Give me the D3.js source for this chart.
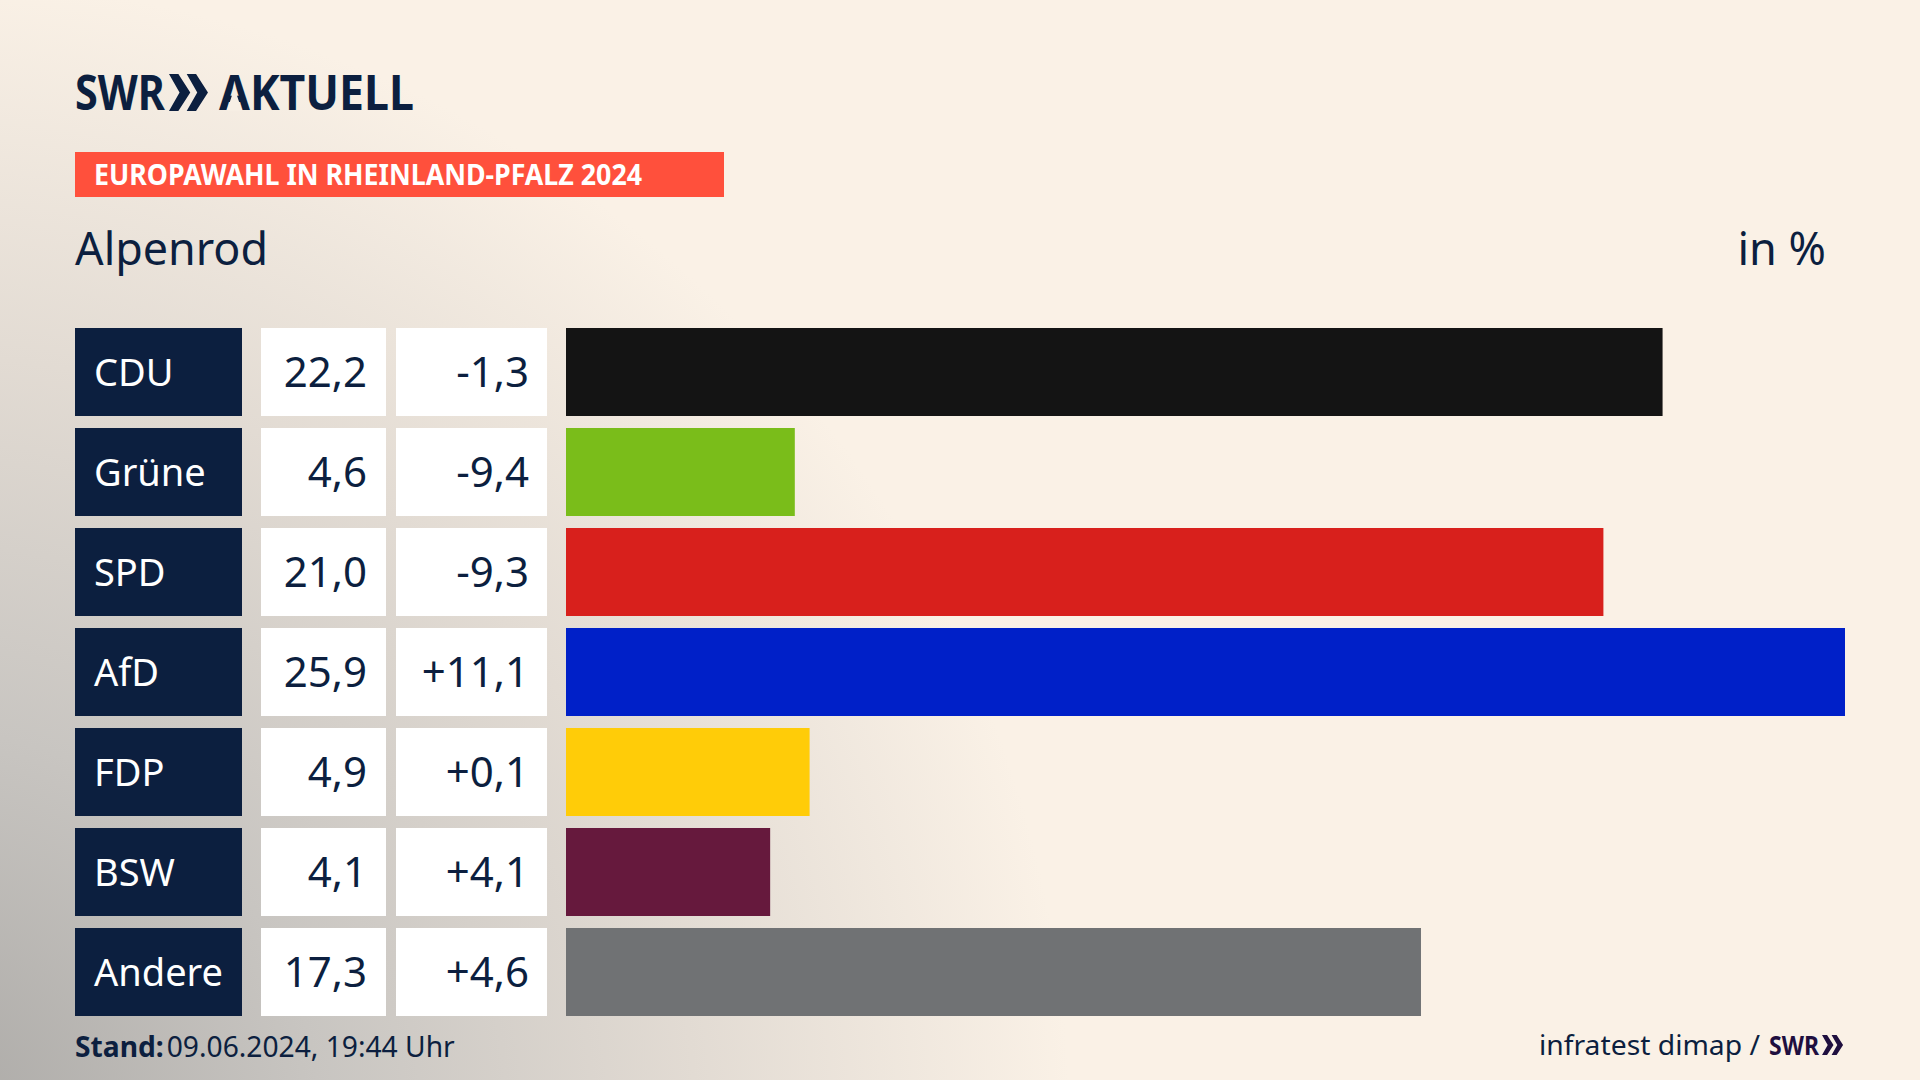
<!DOCTYPE html>
<html>
<head>
<meta charset="utf-8" />
<title>Europawahl Alpenrod</title>
<script src="https://cdn.jsdelivr.net/npm/d3@7/dist/d3.min.js"></script>
<style>
    html, body { margin: 0; padding: 0; background: #faf1e6; }
    svg { display: block; }
    text { font-family: "Noto Sans", sans-serif; }
</style>
</head>
<body>
<svg id="chart" width="1920" height="1080"></svg>
<script>
    var parties = ["CDU", "Grüne", "SPD", "AfD", "FDP", "BSW", "Andere"]
    var shares = [22.2, 4.6, 21.0, 25.9, 4.9, 4.1, 17.3]
    var changes = [-1.3, -9.4, -9.3, 11.1, 0.1, 4.1, 4.6]
    var barColors = ["#141414", "#7abd1a", "#d8201c", "#0020c8", "#ffcc08", "#66193d", "#707274"]

    var navy = "#0c1f3f"
    var svg = d3.select("#chart")

    // background: cream with a grey glow from the lower left corner
    var defs = svg.append("defs")
    var glow = defs.append("radialGradient").attr("id", "glow")
        .attr("gradientUnits", "userSpaceOnUse")
        .attr("cx", -80).attr("cy", 1130).attr("r", 1250)
    glow.append("stop").attr("offset", 0).attr("stop-color", "#aaa8a5")
    glow.append("stop").attr("offset", 0.32).attr("stop-color", "#c8c5c1")
    glow.append("stop").attr("offset", 0.62).attr("stop-color", "#e2dbd3")
    glow.append("stop").attr("offset", 0.92).attr("stop-color", "#faf1e6")
    svg.append("rect").attr("width", 1920).attr("height", 1080).attr("fill", "url(#glow)")

    // logo
    function chevrons(g, x, y, h, color) {
        var w = h * 0.46
        var path = d3.path()
        ;[0, 0.92].forEach(function (k) {
            var x0 = x + k * h * 0.52
            path.moveTo(x0, y)
            path.lineTo(x0 + w * 0.55, y)
            path.lineTo(x0 + w * 1.25, y + h / 2)
            path.lineTo(x0 + w * 0.55, y + h)
            path.lineTo(x0, y + h)
            path.lineTo(x0 + w * 0.62, y + h / 2)
            path.closePath()
        })
        g.append("path").attr("d", path.toString()).attr("fill", color)
    }

    svg.append("text").attr("x", 75).attr("y", 110)
        .attr("font-size", 49).attr("font-weight", 700).attr("fill", navy)
        .attr("textLength", 90).attr("lengthAdjust", "spacingAndGlyphs").text("SWR")
    chevrons(svg, 169, 74, 37, navy)
    var aktuell = svg.append("text").attr("x", 219).attr("y", 110)
        .attr("font-size", 49).attr("font-weight", 700).attr("fill", navy)
        .attr("textLength", 195).attr("lengthAdjust", "spacingAndGlyphs").text("AKTUELL")
    // the logo's A has no crossbar, so cover it with the counter shape
    var aBox = aktuell.node().getExtentOfChar(0)
    var aMid = aBox.x + aBox.width / 2
    svg.append("path")
        .attr("d", "M" + aMid + ",88L" + (aMid + 7.5) + ",110.5L" + (aMid - 7.5) + ",110.5Z")
        .attr("fill", "#f7efe5")

    // red strip
    svg.append("rect").attr("x", 75).attr("y", 152).attr("width", 649).attr("height", 45).attr("fill", "#ff503c")
    svg.append("text").attr("x", 94).attr("y", 185)
        .attr("font-size", 28).attr("font-weight", 700).attr("fill", "#fff")
        .attr("textLength", 548).attr("lengthAdjust", "spacingAndGlyphs")
        .text("EUROPAWAHL IN RHEINLAND-PFALZ 2024")

    svg.append("text").attr("x", 75).attr("y", 265)
        .attr("font-size", 45).attr("fill", navy)
        .attr("textLength", 193).attr("lengthAdjust", "spacingAndGlyphs").text("Alpenrod")
    svg.append("text").attr("x", 1826).attr("y", 265).attr("text-anchor", "end")
        .attr("font-size", 45).attr("fill", navy).text("in %")

    // rows
    var y = d3.scaleBand().domain(parties).range([328, 1016]).paddingInner(0.12).paddingOuter(0)
    var barStart = 566
    var x = d3.scaleLinear().domain([0, 25.9]).range([568, 1845])
    var deFormat = d3.formatLocale({ decimal: ",", thousands: ".", grouping: [3], currency: ["", "€"], minus: "-" })
    var fmtShare = deFormat.format(".1f")
    var fmtChange = deFormat.format("+.1f")

    var rows = svg.selectAll("g.row").data(parties).enter().append("g").attr("class", "row")
        .attr("transform", function (d) { return "translate(0," + y(d) + ")" })
    var h = y.bandwidth()

    rows.append("rect").attr("x", 75).attr("width", 167).attr("height", h).attr("fill", navy)
    rows.append("rect").attr("x", 261).attr("width", 125).attr("height", h).attr("fill", "#fff")
    rows.append("rect").attr("x", 396).attr("width", 151).attr("height", h).attr("fill", "#fff")
    rows.append("rect").attr("x", barStart).attr("height", h)
        .attr("width", function (d, i) { return x(shares[i]) - barStart })
        .attr("fill", function (d, i) { return barColors[i] })

    rows.append("text").attr("x", 94).attr("y", h / 2 + 14)
        .attr("font-size", 38).attr("fill", "#fff").text(function (d) { return d })
    rows.append("text").attr("x", 367).attr("y", h / 2 + 15).attr("text-anchor", "end")
        .attr("font-size", 42).attr("fill", navy).text(function (d, i) { return fmtShare(shares[i]) })
    rows.append("text").attr("x", 529).attr("y", h / 2 + 15).attr("text-anchor", "end")
        .attr("font-size", 42).attr("fill", navy).text(function (d, i) { return fmtChange(changes[i]) })

    // footer
    var stand = svg.append("text").attr("x", 75).attr("y", 1057).attr("font-size", 28.2).attr("fill", navy)
    stand.append("tspan").attr("font-weight", 700).text("Stand:")
    stand.append("tspan").attr("dx", 3).text("09.06.2024, 19:44 Uhr")

    svg.append("text").attr("x", 1539).attr("y", 1055).attr("font-size", 28).attr("fill", navy)
        .attr("textLength", 221).attr("lengthAdjust", "spacingAndGlyphs").text("infratest dimap /")
    svg.append("text").attr("x", 1769).attr("y", 1055).attr("font-size", 27).attr("font-weight", 700).attr("fill", "#1f0f3f")
        .attr("textLength", 50).attr("lengthAdjust", "spacingAndGlyphs").text("SWR")
    chevrons(svg, 1822, 1035, 20, "#1f0f3f")
</script>
</body>
</html>
